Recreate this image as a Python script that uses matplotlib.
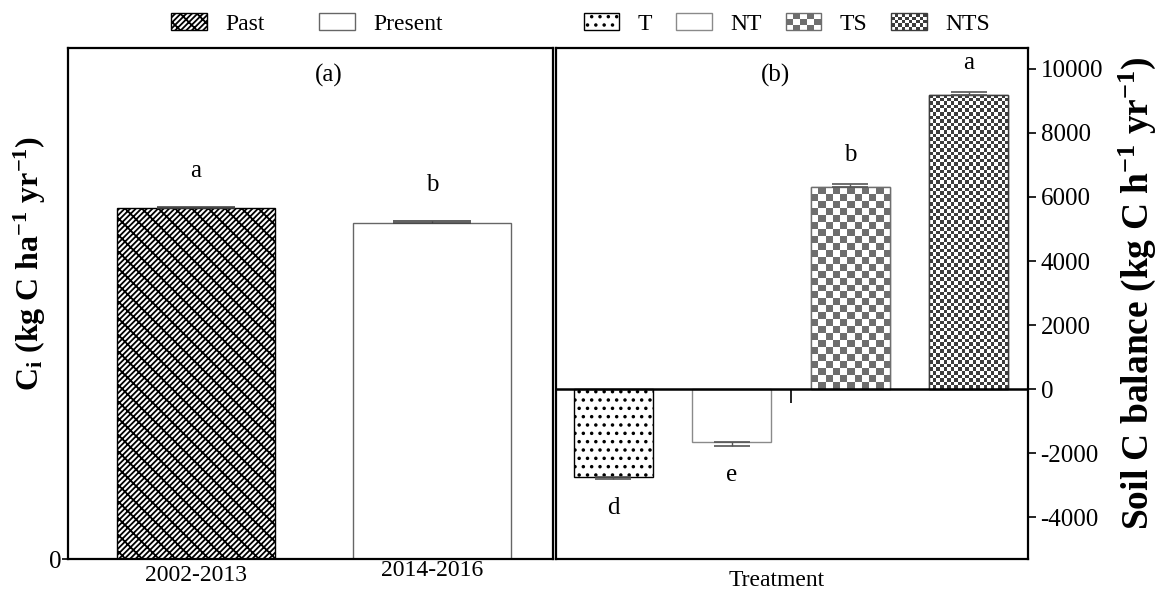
import numpy as np
import matplotlib
matplotlib.use("Agg")
import matplotlib.pyplot as plt
from matplotlib.colors import ListedColormap
from matplotlib.patches import Patch, Rectangle

plt.rcParams["font.family"] = ["Liberation Serif", "DejaVu Serif"]
plt.rcParams["mathtext.default"] = "regular"
plt.rcParams["axes.unicode_minus"] = False
plt.rcParams["hatch.linewidth"] = 1.3

# ---- data -------------------------------------------------------------
periods = ["2002-2013", "2014-2016"]
period_names = ["Past", "Present"]
ci_values = [6870, 6575]
ci_err = [20, 40]
ci_letters = ["a", "b"]

treatments = ["T", "NT", "TS", "NTS"]
balance = [-2750, -1650, 6300, 9190]
balance_err = [60, 130, 100, 90]
balance_letters = ["d", "e", "b", "a"]
balance_ticks = [-4000, -2000, 0, 2000, 4000, 6000, 8000, 10000]

PAST_HATCH = "//////" + "\\\\"

W, H, DPI = 11.56, 5.96, 100
fig = plt.figure(figsize=(W, H), dpi=DPI)


def fx(px):
    return px / (W * DPI)


def fy(py):
    return 1 - py / (H * DPI)


ax1 = fig.add_axes([fx(68), fy(559), fx(553 - 68), fy(48) - fy(559)])
ax2 = fig.add_axes([fx(556), fy(559), fx(1028 - 556), fy(48) - fy(559)])

# ---- panel (a) --------------------------------------------------------
x1 = np.arange(len(periods))
b1 = ax1.bar(x1, ci_values, width=0.667, color="white",
             edgecolor=["black", "#666666"], linewidth=1.0,
             hatch=[PAST_HATCH, ""], zorder=2)
ax1.errorbar(x1, ci_values, yerr=[np.zeros(2), ci_err], fmt="none",
             ecolor="#444444", elinewidth=1.0, capsize=28, capthick=1.2, zorder=3)
for xi, v, e, lab in zip(x1, ci_values, ci_err, ci_letters):
    ax1.annotate(lab, (xi, v + e), xytext=(0, 26), textcoords="offset points",
                 ha="center", va="center", fontsize=18)
ax1.set_xlim(-0.54, 1.51)
ax1.set_ylim(0, 10000)
ax1.set_yticks([0])
ax1.set_xticks([])
ax1.tick_params(axis="y", labelsize=18, length=4, width=1.2, pad=1)
for xi, lab, dy in zip(x1, periods, [-12, -8]):
    ax1.annotate(lab, (xi, 0), xytext=(0, dy), textcoords="offset points",
                 ha="center", va="center", fontsize=17,
                 xycoords=ax1.get_xaxis_transform())
ax1.text(0.537, 0.947, "(a)", transform=ax1.transAxes, ha="center",
         va="center", fontsize=18)
for s in ax1.spines.values():
    s.set_linewidth(1.6)

# ---- panel (b) --------------------------------------------------------
x2 = np.arange(len(treatments))
ylim2 = (-5312, 10656)
ax2.set_xlim(-0.485, 3.5)
ax2.set_ylim(*ylim2)
b2 = ax2.bar(x2, balance, width=0.667, color="white",
             edgecolor=["black", "#8a8a8a", "#777777", "#333333"],
             linewidth=1.0, hatch=["..", "", "", ""], zorder=2)

# checkerboard fills for TS and NTS, clipped to their bars
checker = {2: (7.0, "#6e6e6e"), 3: (3.6, "#3c3c3c")}
ax2.set_autoscale_on(False)
for i, (sq, col) in checker.items():
    bar = b2[i]
    bx0, by0 = bar.get_x(), bar.get_y()
    bx1, by1 = bx0 + bar.get_width(), by0 + bar.get_height()
    p0 = ax2.transData.transform((bx0, by0))
    p1 = ax2.transData.transform((bx1, by1))
    nx = max(1, int(round(abs(p1[0] - p0[0]) / sq)))
    ny = max(1, int(round(abs(p1[1] - p0[1]) / sq)))
    board = np.indices((ny, nx)).sum(axis=0) % 2
    im = ax2.imshow(board, cmap=ListedColormap(["white", col]),
                    extent=[bx0, bx1, by0, by1], origin="lower",
                    interpolation="nearest", aspect="auto", zorder=2.5)
    im.set_clip_path(bar)
    ax2.add_patch(Rectangle((bx0, by0), bx1 - bx0, by1 - by0, fill=False,
                            edgecolor=col, linewidth=1.0, zorder=2.6))

lower = [e if v < 0 else 0 for v, e in zip(balance, balance_err)]
upper = [e if v >= 0 else 0 for v, e in zip(balance, balance_err)]
ax2.errorbar(x2, balance, yerr=[lower, upper], fmt="none", ecolor="#555555",
             elinewidth=1.0, capsize=13, capthick=1.2, zorder=3)
for xi, v, e, lab in zip(x2, balance, balance_err, balance_letters):
    sign = 1 if v >= 0 else -1
    ax2.annotate(lab, (xi, v + sign * e), xytext=(0, sign * 21),
                 textcoords="offset points", ha="center", va="center",
                 fontsize=18)

ax2.axhline(0, color="black", linewidth=1.8, zorder=4)
zero_pos = -ylim2[0] / (ylim2[1] - ylim2[0])
sec = ax2.secondary_xaxis(zero_pos)
sec.set_xticks([1.5])
sec.set_xticklabels([])
sec.tick_params(length=10, width=1.2, direction="out")
sec.spines["bottom"].set_visible(False)

ax2.set_xticks([])
ax2.yaxis.tick_right()
ax2.set_yticks(balance_ticks)
ax2.tick_params(axis="y", labelsize=18, length=6, width=1.2, pad=3,
                right=True, left=False)
ax2.text(0.466, 0.947, "(b)", transform=ax2.transAxes, ha="center",
         va="center", fontsize=18)
for s in ax2.spines.values():
    s.set_linewidth(1.6)

# ---- labels -----------------------------------------------------------
fig.text(fx(30), fy(263), "C$_i$ (kg C ha$^{-1}$ yr$^{-1}$)", rotation=90,
         ha="center", va="center", fontsize=23, fontweight="bold")
fig.text(fx(1137), fy(293), "Soil C balance (kg C h$^{-1}$ yr$^{-1}$)",
         rotation=90, ha="center", va="center", fontsize=27,
         fontweight="bold")
fig.text(fx(777), fy(580), "Treatment", ha="center", va="center",
         fontsize=17)


# ---- legends ----------------------------------------------------------
class CheckerHandler:
    def __init__(self, nx, ny, color):
        self.nx, self.ny, self.color = nx, ny, color

    def legend_artist(self, legend, orig_handle, fontsize, handlebox):
        x0, y0 = -handlebox.xdescent, -handlebox.ydescent
        w, h = handlebox.width, handlebox.height
        tr = handlebox.get_transform()
        cw, ch = w / self.nx, h / self.ny
        for i in range(self.nx):
            for j in range(self.ny):
                if (i + j) % 2:
                    handlebox.add_artist(Rectangle(
                        (x0 + i * cw, y0 + j * ch), cw, ch,
                        facecolor=self.color, edgecolor="none", transform=tr))
        frame = Rectangle((x0, y0), w, h, fill=False, edgecolor=self.color,
                          linewidth=1.0, transform=tr)
        handlebox.add_artist(frame)
        return frame


leg_kw = dict(loc="center", frameon=False, fontsize=17, handlelength=1.5,
              handleheight=0.75, handletextpad=0.8, borderaxespad=0,
              borderpad=0)
h1 = [Patch(facecolor="white", edgecolor="black", hatch=PAST_HATCH),
      Patch(facecolor="white", edgecolor="#666666")]
fig.legend(h1, period_names, ncol=2, columnspacing=2.3,
           bbox_to_anchor=(fx(307), fy(24)), **leg_kw)

ts_h = Patch(facecolor="white")
nts_h = Patch(facecolor="white", edgecolor="black")
h2 = [Patch(facecolor="white", edgecolor="black", hatch=".."),
      Patch(facecolor="white", edgecolor="#8a8a8a"), ts_h, nts_h]
fig.legend(h2, treatments, ncol=4, columnspacing=1.0,
           bbox_to_anchor=(fx(787), fy(24)),
           handler_map={ts_h: CheckerHandler(5, 3, "#6e6e6e"),
                        nts_h: CheckerHandler(10, 5, "#3c3c3c")},
           **leg_kw)

fig.savefig("out.png", dpi=DPI)
